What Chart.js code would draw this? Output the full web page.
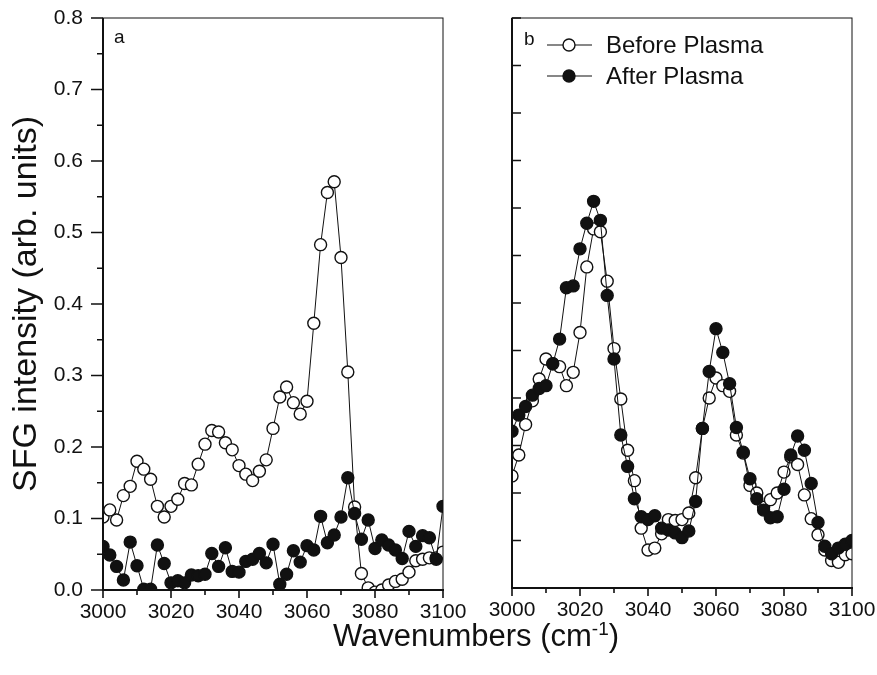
<!DOCTYPE html>
<html>
<head>
<meta charset="utf-8">
<script src="https://cdn.jsdelivr.net/npm/chart.js@4.4.1/dist/chart.umd.min.js"></script>
<style>
  body { margin: 0; background: #fff; }
  #wrap { position: relative; width: 877px; height: 675px; font-family: "Liberation Sans", Arial, sans-serif; }
  #wrap canvas { position: absolute; top: 0; }
  #xtitle { position: absolute; left: 0; width: 952px; top: 618px; text-align: center; font-size: 31px; color: #111; }
  #xtitle sup { font-size: 19px; }
</style>
</head>
<body>
<div id="wrap">
  <canvas id="chartA" width="477" height="675" style="left:0"></canvas>
  <canvas id="chartB" width="417" height="675" style="left:460px"></canvas>
  <div id="xtitle">Wavenumbers (cm<sup>-1</sup>)</div>
</div>
<script>
// nombres d'onde (cm-1), communs aux deux graphes
const wavenumbers = [3000, 3002, 3004, 3006, 3008, 3010, 3012, 3014, 3016, 3018,
  3020, 3022, 3024, 3026, 3028, 3030, 3032, 3034, 3036, 3038,
  3040, 3042, 3044, 3046, 3048, 3050, 3052, 3054, 3056, 3058,
  3060, 3062, 3064, 3066, 3068, 3070, 3072, 3074, 3076, 3078,
  3080, 3082, 3084, 3086, 3088, 3090, 3092, 3094, 3096, 3098, 3100];

// panneau a
const beforeA = [0.102, 0.112, 0.098, 0.132, 0.145, 0.180, 0.169, 0.155, 0.117, 0.102,
  0.117, 0.127, 0.149, 0.147, 0.176, 0.204, 0.223, 0.221, 0.206, 0.196,
  0.174, 0.162, 0.153, 0.166, 0.182, 0.226, 0.270, 0.284, 0.262, 0.246,
  0.264, 0.373, 0.483, 0.556, 0.571, 0.465, 0.305, 0.116, 0.023, 0.003,
  -0.003, 0.000, 0.007, 0.012, 0.015, 0.025, 0.041, 0.043, 0.045, 0.045, 0.053];
const afterA = [0.061, 0.049, 0.033, 0.014, 0.067, 0.034, 0.001, 0.001, 0.063, 0.037,
  0.010, 0.013, 0.010, 0.021, 0.020, 0.022, 0.051, 0.033, 0.059, 0.026,
  0.025, 0.040, 0.043, 0.051, 0.038, 0.064, 0.008, 0.022, 0.055, 0.039,
  0.062, 0.056, 0.103, 0.066, 0.077, 0.102, 0.157, 0.107, 0.071, 0.098,
  0.058, 0.070, 0.063, 0.056, 0.044, 0.082, 0.061, 0.076, 0.073, 0.043, 0.117];

// panneau b (unites arbitraires, axe sans etiquettes)
const beforeB = [0.118, 0.140, 0.172, 0.197, 0.220, 0.241, 0.236, 0.233, 0.213, 0.227,
  0.269, 0.338, 0.378, 0.375, 0.323, 0.252, 0.199, 0.145, 0.113, 0.063,
  0.040, 0.042, 0.057, 0.072, 0.071, 0.072, 0.079, 0.116, 0.168, 0.200,
  0.221, 0.213, 0.207, 0.161, 0.142, 0.108, 0.100, 0.085, 0.093, 0.100,
  0.122, 0.138, 0.130, 0.098, 0.073, 0.056, 0.040, 0.029, 0.027, 0.035, 0.036];
const afterB = [0.165, 0.182, 0.191, 0.203, 0.210, 0.213, 0.236, 0.262, 0.316, 0.318,
  0.357, 0.384, 0.407, 0.387, 0.308, 0.241, 0.161, 0.128, 0.094, 0.075,
  0.072, 0.076, 0.063, 0.061, 0.058, 0.053, 0.060, 0.091, 0.168, 0.228,
  0.273, 0.248, 0.215, 0.169, 0.143, 0.115, 0.094, 0.082, 0.074, 0.075,
  0.104, 0.140, 0.160, 0.145, 0.110, 0.069, 0.044, 0.036, 0.042, 0.046, 0.050];

// graduations
const xMajor = [3000, 3020, 3040, 3060, 3080, 3100];
const xMinor = [3010, 3030, 3050, 3070, 3090];
const yMajorA = [0, 0.1, 0.2, 0.3, 0.4, 0.5, 0.6, 0.7, 0.8];
const yMinorA = [0.05, 0.15, 0.25, 0.35, 0.45, 0.55, 0.65, 0.75];
const yMajorB = [0, 0.1, 0.2, 0.3, 0.4, 0.5, 0.6];
const yMinorB = [0.05, 0.15, 0.25, 0.35, 0.45, 0.55];

const FONT = '"Liberation Sans", Arial, sans-serif';
const ink = '#111';

function toPoints(ys) {
  return wavenumbers.map((w, i) => ({ x: w, y: ys[i] }));
}

function datasets(before, after) {
  return [
    {
      label: 'Before Plasma',
      data: toPoints(before),
      borderColor: ink, borderWidth: 1,
      pointBackgroundColor: '#fff', pointBorderColor: ink,
      pointRadius: 6, pointBorderWidth: 1.4,
      order: 1
    },
    {
      label: 'After Plasma',
      data: toPoints(after),
      borderColor: ink, borderWidth: 1,
      pointBackgroundColor: ink, pointBorderColor: ink,
      pointRadius: 6, pointBorderWidth: 1.4,
      order: 0
    }
  ];
}

// cadre + petites graduations (dessinees a partir des echelles)
const framePlugin = {
  id: 'frame',
  afterDraw(chart, args, opts) {
    const { ctx, chartArea: a, scales: { x, y } } = chart;
    ctx.save();
    ctx.strokeStyle = ink;
    ctx.lineWidth = 1;
    ctx.strokeRect(a.left, a.top, a.right - a.left, a.bottom - a.top);
    ctx.lineWidth = 2;
    ctx.beginPath();
    ctx.moveTo(a.left, a.top);
    ctx.lineTo(a.left, a.bottom);
    ctx.lineTo(a.right + 1, a.bottom);
    ctx.stroke();

    ctx.lineWidth = 1.6;
    ctx.beginPath();
    xMajor.forEach(v => { const p = x.getPixelForValue(v); ctx.moveTo(p, a.bottom); ctx.lineTo(p, a.bottom + 8); });
    xMinor.forEach(v => { const p = x.getPixelForValue(v); ctx.moveTo(p, a.bottom); ctx.lineTo(p, a.bottom + 5); });
    const dir = opts.inward ? 1 : -1;
    opts.yMajor.forEach(v => { const p = y.getPixelForValue(v); ctx.moveTo(a.left, p); ctx.lineTo(a.left + dir * opts.majorLen, p); });
    opts.yMinor.forEach(v => { const p = y.getPixelForValue(v); ctx.moveTo(a.left, p); ctx.lineTo(a.left + dir * opts.minorLen, p); });
    ctx.stroke();

    // lettre du panneau
    ctx.fillStyle = ink;
    ctx.font = '19px ' + FONT;
    ctx.textBaseline = 'middle';
    ctx.fillText(opts.letter, a.left + opts.letterDx, a.top + opts.letterDy);
    ctx.restore();
  }
};

// legende du panneau b : —o— texte
const legendPlugin = {
  id: 'lineLegend',
  afterDraw(chart, args, opts) {
    if (!opts.show) return;
    const { ctx, chartArea: a } = chart;
    ctx.save();
    ctx.font = '24px ' + FONT;
    ctx.textBaseline = 'middle';
    ctx.fillStyle = ink;
    ctx.strokeStyle = ink;
    chart.data.datasets.forEach((ds, i) => {
      const yy = a.top + 27 + i * 31;
      ctx.lineWidth = 1.2;
      ctx.beginPath();
      ctx.moveTo(a.left + 35, yy); ctx.lineTo(a.left + 80, yy);
      ctx.stroke();
      ctx.beginPath();
      ctx.arc(a.left + 57, yy, 6, 0, Math.PI * 2);
      ctx.fillStyle = ds.pointBackgroundColor;
      ctx.fill();
      ctx.lineWidth = 1.4;
      ctx.stroke();
      ctx.fillStyle = ink;
      ctx.fillText(ds.label, a.left + 94, yy + 1);
    });
    ctx.restore();
  }
};

function xAxis() {
  return {
    type: 'linear', min: 3000, max: 3100,
    afterBuildTicks: s => { s.ticks = xMajor.map(v => ({ value: v })); },
    afterFit: s => { s.height = 85; s.paddingLeft = 0; s.paddingRight = 0; },
    grid: { display: false, drawTicks: false },
    border: { display: false },
    ticks: { color: ink, padding: 10, font: { family: FONT, size: 21 }, callback: v => String(v) }
  };
}

// Panneau a
new Chart(document.getElementById('chartA').getContext('2d'), {
  type: 'line',
  data: { datasets: datasets(beforeA, afterA) },
  plugins: [framePlugin, legendPlugin],
  options: {
    responsive: false, animation: false,
    layout: { padding: { top: 18, right: 34, left: 0, bottom: 0 } },
    plugins: {
      legend: { display: false }, tooltip: { enabled: false },
      frame: { yMajor: yMajorA, yMinor: yMinorA, inward: false, majorLen: 12, minorLen: 6, letter: 'a', letterDx: 11, letterDy: 20 },
      lineLegend: { show: false }
    },
    scales: {
      x: xAxis(),
      y: {
        min: 0, max: 0.8,
        afterBuildTicks: s => { s.ticks = yMajorA.map(v => ({ value: v })); },
        afterFit: s => { s.width = 103; s.paddingTop = 0; s.paddingBottom = 0; },
        grid: { display: false, drawTicks: false },
        border: { display: false },
        ticks: { color: ink, padding: 20, font: { family: FONT, size: 21 }, callback: v => v.toFixed(1) },
        title: { display: true, text: 'SFG intensity (arb. units)', color: ink, padding: { top: 6, bottom: 0 }, font: { family: FONT, size: 34 } }
      }
    }
  }
});

// Panneau b
new Chart(document.getElementById('chartB').getContext('2d'), {
  type: 'line',
  data: { datasets: datasets(beforeB, afterB) },
  plugins: [framePlugin, legendPlugin],
  options: {
    responsive: false, animation: false,
    layout: { padding: { top: 18, right: 25, left: 0, bottom: 2 } },
    plugins: {
      legend: { display: false }, tooltip: { enabled: false },
      frame: { yMajor: yMajorB, yMinor: yMinorB, inward: true, majorLen: 9, minorLen: 9, letter: 'b', letterDx: 12, letterDy: 22 },
      lineLegend: { show: true }
    },
    scales: {
      x: xAxis(),
      y: {
        min: 0, max: 0.6,
        afterFit: s => { s.width = 52; s.paddingTop = 0; s.paddingBottom = 0; },
        grid: { display: false, drawTicks: false },
        border: { display: false },
        ticks: { display: false }
      }
    }
  }
});
</script>
</body>
</html>
